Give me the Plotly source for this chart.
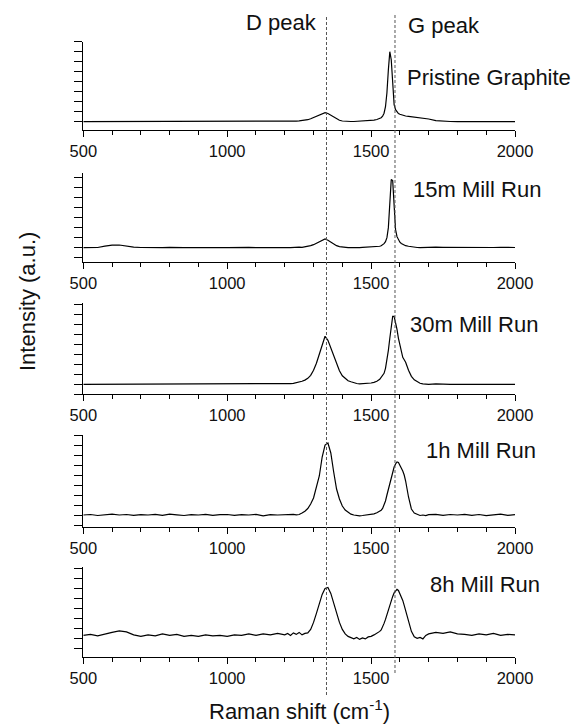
import plotly.graph_objects as go

W, H = 576, 726

# Raman shift sampling positions (cm-1)
shift = [500, 525, 550, 575, 600, 625, 650, 675, 700, 725, 750, 775, 800, 825, 850, 875, 900, 925, 950, 975,
         1000, 1025, 1050, 1075, 1100, 1125, 1150, 1175, 1200,
         1210, 1220, 1230, 1240, 1250, 1260, 1270, 1280, 1290, 1300, 1310, 1320, 1330, 1340, 1350, 1360, 1370,
         1380, 1390, 1400, 1410, 1420, 1430, 1440, 1450, 1460, 1470, 1480, 1490, 1500, 1510, 1520, 1530,
         1535, 1540, 1545, 1550, 1555, 1560, 1565, 1570, 1575, 1580, 1585, 1590, 1595, 1600, 1605, 1610, 1615, 1620,
         1630, 1640, 1650, 1660, 1670, 1680, 1690, 1700,
         1725, 1750, 1775, 1800, 1825, 1850, 1875, 1900, 1925, 1950, 1975, 2000]

pristine = [0, 0, 0, 0, 0, 0, 0, 0.05, 0.04, 0.05, 0, 0, 0, 0.03, 0, 0, 0, 0, 0, 0, 0, 0, 0.02, 0, 0, 0, 0, 0, 0.02,
            0.03, 0.04, 0.05, 0.06, 0.08, 0.1, 0.14, 0.2, 0.3, 0.42, 0.58, 0.72, 0.84, 0.9, 0.82, 0.64, 0.42,
            0.25, 0.14, 0.07, 0.03, 0.02, 0.02, 0.02, 0.03, 0.04, 0.05, 0.07, 0.09, 0.12, 0.16, 0.22, 0.32,
            0.4, 0.55, 0.85, 1.5, 2.9, 5.2, 7.0, 6.2, 3.2, 1.7, 1.2, 0.95, 0.82, 0.74, 0.68, 0.63, 0.6, 0.57,
            0.53, 0.5, 0.47, 0.44, 0.4, 0.36, 0.32, 0.27,
            0.1, 0.04, 0.02, 0, 0, 0, 0, 0, 0, 0, 0, 0]

mill_15m = [0, 0, 0.02, 0.15, 0.25, 0.27, 0.15, 0.05, 0.02, 0, 0.02, 0, 0.03, 0, 0, 0.02, 0, 0.03, 0, 0,
            0, 0.02, 0, 0.03, 0, 0.02, 0, 0.03, 0.02,
            0.02, 0, 0.03, 0.02, 0.05, 0.04, 0.08, 0.12, 0.2, 0.3, 0.45, 0.6, 0.76, 0.87, 0.75, 0.55, 0.36,
            0.2, 0.1, 0.05, 0.02, 0, 0.02, 0, 0.02, 0, 0.03, 0.04, 0.05, 0.06, 0.08, 0.1, 0.14,
            0.2, 0.28, 0.4, 0.6, 1.0, 2.0, 4.2, 6.8, 6.7, 3.6, 1.8, 1.1, 0.75, 0.55, 0.42, 0.33, 0.26, 0.2,
            0.14, 0.08, 0.04, 0.02, 0, 0.02, 0, 0.03,
            0.05, 0.04, 0.03, 0, 0.02, 0, 0.03, 0, 0.02, 0.03, 0, 0.02]

mill_30m = [0, 0, 0, 0, 0, 0.03, 0, 0, 0.02, 0, 0, 0, 0.03, 0.02, 0, 0, 0.02, 0, 0, 0,
            0, 0, 0, 0, 0, 0, 0, 0, 0.03,
            0.05, 0.07, 0.1, 0.15, 0.22, 0.3, 0.42, 0.6, 0.9, 1.4, 2.1, 3.0, 4.1, 4.8, 4.4, 3.6, 2.8,
            2.0, 1.35, 0.85, 0.55, 0.35, 0.25, 0.15, 0.08, 0.05, 0.06, 0.07, 0.1, 0.13, 0.2, 0.3, 0.5,
            0.68, 0.85, 1.1, 1.6, 2.4, 3.4, 4.6, 5.9, 6.8, 6.8, 6.2, 5.5, 4.6, 3.9, 3.2, 2.7, 2.45, 2.2,
            1.4, 0.8, 0.45, 0.25, 0.1, 0.05, 0.02, 0,
            0.04, 0, 0, 0, 0, 0, 0, 0.03, 0.02, 0.03, 0, 0]

mill_1h = [0, 0.05, -0.05, 0.02, 0.08, 0.0, 0.05, -0.04, 0.03, 0.0, 0.06, -0.03, 0.08, 0.02, -0.05, 0.04, 0.0,
           0.06, -0.04, 0.03, 0.05, -0.03, 0.04, 0.0, 0.06, -0.08, 0.03, 0.0, 0.04,
           0.05, 0.03, 0.06, 0.02, 0.05, 0.2, 0.38, 0.65, 1.1, 1.7, 2.7, 3.9, 5.8, 7.0, 7.2, 6.2, 4.3,
           2.6, 1.6, 0.9, 0.5, 0.25, 0.08, 0.0, -0.05, -0.08, -0.05, -0.02, 0.02, 0.05, 0.12, 0.22, 0.38,
           0.48, 0.65, 0.95, 1.4, 2.0, 2.6, 3.2, 3.8, 4.3, 4.8, 5.1, 5.3, 5.25, 5.0, 4.7, 4.4, 4.0, 3.4,
           1.8, 0.6, 0.2, 0.05, -0.05, 0.0, -0.06, 0.04,
           0.06, -0.04, 0.05, 0.0, 0.07, -0.03, 0.05, -0.06, 0.03, 0.08, -0.04, 0.03]

mill_8h = [0.3, 0.4, 0.25, 0.45, 0.6, 0.75, 0.65, 0.35, 0.2, 0.35, 0.25, 0.45, 0.3, 0.4, 0.2, 0.3, 0.2, 0.35,
           0.25, 0.3, 0.2, 0.35, 0.3, 0.45, 0.3, 0.45, 0.35, 0.5, 0.35,
           0.5, 0.3, 0.55, 0.4, 0.6, 0.35, 0.5, 0.55, 0.9, 1.6, 2.5, 3.5, 4.4, 5.0, 5.1, 4.5, 3.5,
           2.5, 1.6, 0.9, 0.45, 0.2, 0.05, -0.05, 0.1, -0.1, 0.05, -0.05, 0.15, 0.2, 0.35, 0.5, 0.7,
           0.85, 1.1, 1.5, 1.9, 2.4, 2.9, 3.4, 3.8, 4.2, 4.55, 4.75, 4.9, 4.8, 4.5, 4.2, 3.8, 3.3, 2.8,
           1.7, 0.7, 0.15, 0.0, 0.1, -0.05, 0.3, 0.45,
           0.6, 0.5, 0.65, 0.45, 0.4, 0.3, 0.45, 0.35, 0.5, 0.3, 0.4, 0.35]

series = [pristine, mill_15m, mill_30m, mill_1h, mill_8h]
labels = ["Pristine Graphite", "15m Mill Run", "30m Mill Run", "1h Mill Run", "8h Mill Run"]
x_ticks = [500, 1000, 1500, 2000]
peak_lines = [1345, 1583]
peak_names = ["D peak", "G peak"]

# layout geometry (pixels)
panel_top = [41.7, 173.3, 303.3, 435.0, 566.7]
panel_bot = [130.0, 261.7, 394.3, 526.7, 656.7]
y_ranges = [[-0.83, 8.0], [-1.4, 7.43], [-1.0, 8.1], [-1.17, 8.0], [-1.83, 7.17]]
label_pos = [(488.5, 78), (477, 190), (473.5, 324.7), (481, 450), (484.5, 584.7)]
x_left, x_right = 83.3, 515.0

FONT = "Liberation Sans, Arial, sans-serif"
TXT = "#111"

fig = go.Figure()
layout = dict(
    width=W, height=H, margin=dict(l=0, r=0, t=0, b=0, autoexpand=False),
    paper_bgcolor="white", plot_bgcolor="white", showlegend=False,
    font=dict(family=FONT, color=TXT),
)

for i, ys in enumerate(series):
    n = "" if i == 0 else str(i + 1)
    fig.add_trace(go.Scatter(x=shift, y=ys, mode="lines", xaxis="x" + n, yaxis="y" + n,
                             line=dict(color="black", width=1.2), hoverinfo="skip"))
    layout["xaxis" + n] = dict(
        domain=[x_left / W, x_right / W], anchor="y" + n, range=[500, 2000], automargin=False,
        showline=True, linecolor="black", linewidth=1, showgrid=False, zeroline=False,
        tickmode="array", tickvals=x_ticks, ticks="outside", ticklen=6, tickwidth=1, tickcolor="black",
        tickfont=dict(size=16.5, family=FONT, color=TXT),
        minor=dict(dtick=100, tick0=500, ticks="outside", ticklen=4, tickwidth=1, tickcolor="black", showgrid=False),
    )
    layout["yaxis" + n] = dict(
        domain=[1 - panel_bot[i] / H, 1 - panel_top[i] / H], anchor="x" + n, range=y_ranges[i], automargin=False,
        showline=True, linecolor="black", linewidth=1, showgrid=False, zeroline=False,
        tick0=0, dtick=1, ticks="outside", ticklen=8, tickwidth=1, tickcolor="black",
        showticklabels=False,
    )

fig.update_layout(**layout)

# dashed reference lines across all panels
line_bottoms = [695, 673]
for xv, yb in zip(peak_lines, line_bottoms):
    fig.add_shape(type="line", xref="x", yref="paper", x0=xv, x1=xv,
                  y0=1 - yb / H, y1=1 - 15 / H,
                  line=dict(color="#555", width=1, dash="3px,2px"))

ann = []
for (px, py), txt in zip(label_pos, labels):
    ann.append(dict(text=txt, x=px / W, y=1 - py / H, xref="paper", yref="paper",
                    showarrow=False, xanchor="center", yanchor="middle",
                    font=dict(size=22, family=FONT, color=TXT)))
ann.append(dict(text=peak_names[0], x=281 / W, y=1 - 22.5 / H, xref="paper", yref="paper",
                showarrow=False, xanchor="center", yanchor="middle", font=dict(size=22, family=FONT, color=TXT)))
ann.append(dict(text=peak_names[1], x=443.5 / W, y=1 - 25.5 / H, xref="paper", yref="paper",
                showarrow=False, xanchor="center", yanchor="middle", font=dict(size=22, family=FONT, color=TXT)))
ann.append(dict(text="Raman shift (cm<sup>-1</sup>)", x=299 / W, y=1 - 710 / H, xref="paper", yref="paper",
                showarrow=False, xanchor="center", yanchor="middle", font=dict(size=22, family=FONT, color=TXT)))
ann.append(dict(text="Intensity (a.u.)", x=27 / W, y=1 - 302 / H, xref="paper", yref="paper",
                showarrow=False, xanchor="center", yanchor="middle", textangle=-90,
                font=dict(size=22, family=FONT, color=TXT)))
fig.update_layout(annotations=ann)

fig.write_html("out.html")
